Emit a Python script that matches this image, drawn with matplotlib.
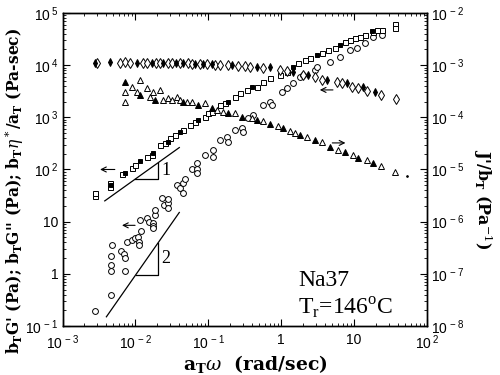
import matplotlib
matplotlib.use("Agg")
import matplotlib.pyplot as plt
from matplotlib.ticker import FixedLocator, FixedFormatter, LogLocator, NullFormatter

plt.rcParams['mathtext.fontset'] = 'dejavuserif'

# ---------------- data ----------------
# eta* (left axis, Pa-sec) - open and filled diamonds
dia_open_x = [0.00298, 0.00617, 0.00722, 0.00845, 0.01276, 0.0145, 0.0192, 0.0218, 0.0281, 0.0319,
              0.0411, 0.0530, 0.0601, 0.0775, 0.0966, 0.1245, 0.146, 0.188, 0.257, 0.319, 0.377,
              0.568, 0.972, 1.21, 1.96, 2.94, 3.67, 5.89, 6.9, 9.5, 11.4, 15.2, 23.7, 38.1]
dia_open_y = [10800, 11200, 11300, 11200, 11200, 11000, 11100, 11000, 11000, 10900,
              10900, 10800, 10700, 10700, 10400, 10200, 10100, 10000, 9800, 9600, 9400,
              8850, 8100, 7750, 6490, 5940, 5200, 4760, 4560, 3820, 3660, 3200, 2690, 2250]
dia_fill_x = [0.00279, 0.00449, 0.01055, 0.0170, 0.0240, 0.0362, 0.0452, 0.0661, 0.0851, 0.113,
              0.213, 0.470, 0.708, 1.47, 2.35, 4.30, 8.09, 13.1, 19.6]
dia_fill_y = [11000, 11300, 11200, 11100, 11000, 10900, 10800, 10600, 10500, 10300,
              9900, 9200, 9240, 7410, 6490, 5200, 4560, 3820, 3070]

# G'' (left axis, Pa) - squares
sq_open_x = [0.00279, 0.00279, 0.00449, 0.00449, 0.0066, 0.0090, 0.0099, 0.0145, 0.0170, 0.0218,
             0.0254, 0.0300, 0.0350, 0.0452, 0.0564, 0.0663, 0.0906, 0.0993, 0.113, 0.146,
             0.171, 0.234, 0.274, 0.339, 0.470, 0.568, 0.708, 0.972, 1.21, 1.70,
             2.14, 2.51, 3.67, 4.43, 5.5, 7.59, 8.89, 10.4, 12.2, 14.3,
             18.4, 20.9, 24.5, 36.9, 36.9]
sq_open_y = [31, 35, 55, 46, 82, 107, 123, 174, 190, 296,
             323, 403, 460, 574, 714, 816, 1020, 1210, 1270, 1730,
             1890, 2460, 2930, 3350, 3820, 4760, 5690, 6490, 7410, 11000,
             12600, 13700, 17100, 19600, 21400, 27800, 30400, 33200, 34700, 37900,
             43300, 47200, 47200, 61600, 51600]
sq_fill_x = [0.0046, 0.0072, 0.0116, 0.0175, 0.0281, 0.0411, 0.0727, 0.188, 0.40, 1.47,
             3.13, 6.48, 17.7]
sq_fill_y = [51, 85, 146, 208, 338, 525, 892, 1970, 3820, 9240,
             15700, 24400, 45000]

# G' (left axis, Pa) - open circles
circ_x = [0.00279, 0.00463, 0.00463, 0.00463, 0.00463, 0.00479, 0.00637, 0.0070, 0.0072, 0.0072,
          0.0077, 0.0090, 0.0099, 0.0108, 0.0112, 0.0112, 0.0120, 0.0116, 0.0145, 0.0154,
          0.0175, 0.0175, 0.0175, 0.0187, 0.0187, 0.0233, 0.0247, 0.0281, 0.0281, 0.0281,
          0.0374, 0.0411, 0.0452, 0.0452, 0.0482, 0.0601, 0.0705, 0.0705, 0.0705, 0.0906,
          0.117, 0.117, 0.146, 0.182, 0.188, 0.234, 0.292, 0.302, 0.353, 0.414,
          0.568, 0.708, 0.755, 1.04, 1.21, 1.47, 1.83, 2.01, 2.94, 3.13,
          4.72, 6.48, 8.89, 11.1, 14.3, 18.4, 24.5]
circ_y = [0.19, 0.40, 1.14, 1.5, 2.15, 3.6, 2.7, 2.35, 2.05, 1.14,
          4.1, 4.5, 4.9, 5.1, 4.0, 3.6, 6.7, 10.8, 11.8, 10.0,
          9.5, 8.4, 7.4, 13.5, 16.8, 28.6, 21, 22.5, 18.5, 27,
          51, 45, 55.5, 35, 66, 104, 133, 100, 86, 190,
          237, 174, 369, 421, 338, 574, 627, 525, 960, 1110,
          1730, 1970, 1730, 3070, 3660, 4560, 5940, 6490, 8100, 9240,
          11500, 14400, 19600, 21400, 26600, 34700, 37900]

# J'/bT (right axis, 1/Pa) - triangles
tri_open_x = [0.0116, 0.00722, 0.00722, 0.0090, 0.01055, 0.0145, 0.0159, 0.0175, 0.0218, 0.0240,
              0.0281, 0.0319, 0.0374, 0.0411, 0.0513, 0.0601, 0.0906, 0.132, 0.160, 0.234,
              0.40, 0.568, 0.91, 1.33, 1.56, 2.28, 3.67, 6.08, 9.78, 15.2, 23.7, 36.9]
tri_open_y = [5.2e-4, 3.07e-4, 1.97e-4, 3.82e-4, 3.07e-4, 3.66e-4, 2.46e-4, 3.07e-4, 3.35e-4, 2.15e-4,
              2.35e-4, 2.15e-4, 2.46e-4, 2.15e-4, 1.97e-4, 1.97e-4, 1.89e-4, 1.39e-4, 1.27e-4, 1.21e-4,
              9.75e-5, 8.5e-5, 6.84e-5, 5.49e-5, 5.02e-5, 4.21e-5, 3.38e-5, 2.37e-5, 1.90e-5, 1.53e-5,
              1.17e-5, 9.0e-6]
tri_fill_x = [0.00722, 0.0116, 0.0187, 0.0452, 0.0727, 0.113, 0.188, 0.292, 0.470, 0.708,
              1.07, 1.83, 2.94, 4.72, 7.59, 11.4, 18.4]
tri_fill_y = [4.76e-4, 2.69e-4, 2.15e-4, 1.97e-4, 1.73e-4, 1.51e-4, 1.21e-4, 1.02e-4, 8.9e-5, 7.48e-5,
              6.27e-5, 4.60e-5, 3.69e-5, 2.71e-5, 2.17e-5, 1.67e-5, 1.34e-5]
dot_x = [54.0]
dot_y = [7.5e-6]

# ticks
x_ticks = [1e-3, 1e-2, 1e-1, 1, 10, 100]
x_tick_labels = [r'$\mathregular{10^{\,-3}}$', r'$\mathregular{10^{\,-2}}$', r'$\mathregular{10^{\,-1}}$',
                 '1', '10', r'$\mathregular{10^{\,2}}$']
yl_ticks = [1e-1, 1, 10, 1e2, 1e3, 1e4, 1e5]
yl_tick_labels = [r'$\mathregular{10^{\,-1}}$', '1', '10', r'$\mathregular{10^{\,2}}$',
                  r'$\mathregular{10^{\,3}}$', r'$\mathregular{10^{\,4}}$', r'$\mathregular{10^{\,5}}$']
yr_ticks = [1e-8, 1e-7, 1e-6, 1e-5, 1e-4, 1e-3, 1e-2]
yr_tick_labels = [r'$\mathregular{10^{\,-8}}$', r'$\mathregular{10^{\,-7}}$', r'$\mathregular{10^{\,-6}}$',
                  r'$\mathregular{10^{\,-5}}$', r'$\mathregular{10^{\,-4}}$', r'$\mathregular{10^{\,-3}}$',
                  r'$\mathregular{10^{\,-2}}$']

# ---------------- figure ----------------
fig = plt.figure(figsize=(5, 3.75), dpi=100)
ax = fig.add_axes([0.125, 0.1307, 0.729, 0.8347])
ax.set_xscale('log')
ax.set_yscale('log')
ax.set_xlim(1e-3, 1e2)
ax.set_ylim(1e-1, 1e5)

mk = dict(linestyle='none', color='black', markeredgewidth=0.7)
ax.plot(circ_x, circ_y, marker='o', markersize=4.2, markerfacecolor='white', **mk)
ax.plot(sq_open_x, sq_open_y, marker='s', markersize=3.6, markerfacecolor='white', **mk)
ax.plot(sq_fill_x, sq_fill_y, marker='s', markersize=3.2, markerfacecolor='black', **mk)
ax.plot(dia_open_x, dia_open_y, marker='d', markersize=4.8, markerfacecolor='white', **mk)
ax.plot(dia_fill_x, dia_fill_y, marker='d', markersize=4.2, markerfacecolor='black', **mk)

ax2 = ax.twinx()
ax2.set_yscale('log')
ax2.set_ylim(1e-8, 1e-2)
ax2.plot(tri_open_x, tri_open_y, marker='^', markersize=4.0, markerfacecolor='white', **mk)
ax2.plot(tri_fill_x, tri_fill_y, marker='^', markersize=3.8, markerfacecolor='black', **mk)
ax2.plot(dot_x, dot_y, marker='o', markersize=1.2, markerfacecolor='black', **mk)

# slope guides
ax.plot([0.0038, 0.040], [25, 263], color='black', lw=0.9)
ax.plot([0.0099, 0.0205, 0.0205], [65, 65, 135], color='black', lw=0.9)
ax.text(0.0225, 95, '1', fontsize=13, family='Liberation Serif', va='center', ha='left')
ax.plot([0.0040, 0.040], [0.15, 15], color='black', lw=0.9)
ax.plot([0.0101, 0.0205, 0.0205], [0.96, 0.96, 3.94], color='black', lw=0.9)
ax.text(0.0225, 1.95, '2', fontsize=13, family='Liberation Serif', va='center', ha='left')

# arrows
ap = dict(arrowstyle='->', lw=0.8, color='black', mutation_scale=9)
ax.annotate('', xy=(0.0030, 100), xytext=(0.0057, 100), arrowprops=ap)
ax.annotate('', xy=(0.0060, 8.5), xytext=(0.0108, 8.5), arrowprops=ap)
ax.annotate('', xy=(3.1, 3350), xytext=(5.6, 3350), arrowprops=ap)
ax.annotate('', xy=(8.3, 323), xytext=(4.6, 323), arrowprops=ap)

# sample text
ax.text(1.7, 0.58, 'Na37', fontsize=17, family='Liberation Serif', ha='left', va='baseline')
ax.text(1.7, 0.175, r'T$_\mathregular{r}$=146$^\mathregular{o}$C', fontsize=17,
        family='Liberation Serif', ha='left', va='baseline')

# ticks
for a in (ax, ax2):
    a.tick_params(which='major', direction='in', length=5, width=0.8, labelsize=10)
    a.tick_params(which='minor', direction='in', length=2.5, width=0.6)
ax.tick_params(which='both', top=True, right=False)
ax.tick_params(axis='x', pad=5)
ax.tick_params(axis='y', pad=3)
ax2.tick_params(axis='y', pad=3)

ax.xaxis.set_major_locator(FixedLocator(x_ticks))
ax.xaxis.set_major_formatter(FixedFormatter(x_tick_labels))
ax.xaxis.set_minor_locator(LogLocator(base=10, subs=range(2, 10), numticks=20))
ax.xaxis.set_minor_formatter(NullFormatter())
ax.yaxis.set_major_locator(FixedLocator(yl_ticks))
ax.yaxis.set_major_formatter(FixedFormatter(yl_tick_labels))
ax.yaxis.set_minor_locator(LogLocator(base=10, subs=range(2, 10), numticks=20))
ax.yaxis.set_minor_formatter(NullFormatter())
ax2.yaxis.set_major_locator(FixedLocator(yr_ticks))
ax2.yaxis.set_major_formatter(FixedFormatter(yr_tick_labels))
ax2.yaxis.set_minor_locator(LogLocator(base=10, subs=range(2, 10), numticks=20))
ax2.yaxis.set_minor_formatter(NullFormatter())
for lab in ax.get_xticklabels() + ax.get_yticklabels() + ax2.get_yticklabels():
    lab.set_family('Liberation Sans')

for a in (ax, ax2):
    for s in a.spines.values():
        s.set_linewidth(1.0)

# axis labels
fig.text(0.51, 0.03, r"a$_\mathregular{T}\omega$  (rad/sec)", fontsize=13.5,
         family='DejaVu Serif', fontweight='bold', ha='center', va='center')
fig.text(0.028, 0.49,
         r"b$_\mathregular{T}$G' (Pa); b$_\mathregular{T}$G'' (Pa); b$_\mathregular{T}\eta^*$/a$_\mathregular{T}$ (Pa-sec)",
         fontsize=11.2, family='DejaVu Serif', fontweight='bold', rotation=90, ha='center', va='center')
fig.text(0.965, 0.47, r"J'/b$_\mathregular{T}$ (Pa$^{-1}$)", fontsize=11.5,
         family='DejaVu Serif', fontweight='bold', rotation=-90, ha='center', va='center')

fig.savefig('out.png', dpi=100)
